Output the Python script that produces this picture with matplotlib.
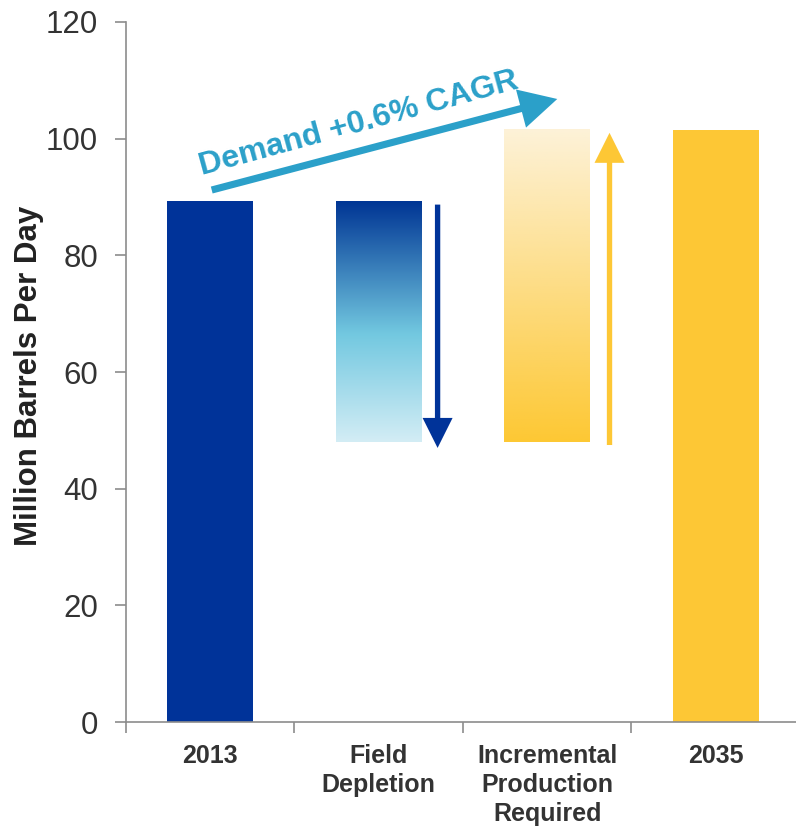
import numpy as np
import matplotlib.pyplot as plt
from matplotlib.colors import LinearSegmentedColormap

plt.rcParams["font.family"] = ["Liberation Sans", "DejaVu Sans"]

categories = ["2013", "Field\nDepletion", "Incremental\nProduction\nRequired", "2035"]
demand_2013 = 89.3
field_depletion = 41.3
demand_2035 = 101.5
demand_label = "Demand +0.6% CAGR"

BLUE = "#003399"
GOLD = "#fdc735"
TEAL = "#2ba0c9"

floor_level = demand_2013 - field_depletion
incremental = demand_2035 - floor_level
bar_w = 0.51


def gradient_bar(ax, x, bottom, height, colors):
    # vertical gradient: colors listed bottom -> top
    cmap = LinearSegmentedColormap.from_list("g", colors)
    grad = np.linspace(0, 1, 256).reshape(-1, 1)
    ax.imshow(grad, cmap=cmap, origin="lower", aspect="auto",
              extent=(x - bar_w / 2, x + bar_w / 2, bottom, bottom + height),
              zorder=2, interpolation="bicubic")


fig = plt.figure(figsize=(7.96, 8.32), dpi=100)
ax = fig.add_axes([0.158, 0.132, 0.847, 0.8416])

ax.bar(0, demand_2013, width=bar_w, color=BLUE, zorder=2)
ax.bar(3, demand_2035, width=bar_w, color=GOLD, zorder=2)
gradient_bar(ax, 1, floor_level, field_depletion,
             [(0.0, "#d3edf5"), (0.45, "#72c8e0"), (1.0, "#003594")])
gradient_bar(ax, 2, floor_level, incremental,
             [(0.0, "#fdc834"), (1.0, "#fdf2d8")])

# direction arrows beside the middle bars
ax.annotate("", xy=(1.35, floor_level - 1.0), xytext=(1.35, demand_2013 - 0.6),
            arrowprops=dict(arrowstyle="simple,tail_width=0.16,head_width=0.9,head_length=0.9",
                            mutation_scale=24, color=BLUE, shrinkA=0, shrinkB=0, lw=0),
            zorder=3)
ax.annotate("", xy=(2.37, demand_2035 - 0.5), xytext=(2.37, floor_level - 0.5),
            arrowprops=dict(arrowstyle="simple,tail_width=0.16,head_width=0.9,head_length=0.9",
                            mutation_scale=24, color=GOLD, shrinkA=0, shrinkB=0, lw=0),
            zorder=3)

# demand growth arrow
ax.annotate("", xy=(2.06, demand_2035 + 5.3), xytext=(0.01, demand_2013 + 1.9),
            arrowprops=dict(arrowstyle="simple,tail_width=0.19,head_width=1.05,head_length=1.0",
                            mutation_scale=27, color=TEAL, shrinkA=0, shrinkB=0, lw=0),
            zorder=3, annotation_clip=False)
ax.text(0.88, 102.6, demand_label, rotation=15.3, rotation_mode="anchor",
        ha="center", va="center", fontsize=23, fontweight="bold", color=TEAL)

ax.set_xlim(-0.5, 3.5)
ax.set_ylim(0, 120)
ax.set_yticks(range(0, 121, 20))
ax.set_xticks([-0.5, 0.5, 1.5, 2.5, 3.5])
ax.set_xticklabels([])
ax.set_xticks(range(len(categories)), minor=True)
ax.set_xticklabels(categories, minor=True, fontsize=18, fontweight="bold",
                   color="#333333", linespacing=1.25)
ax.tick_params(axis="x", which="major", length=8, width=1.2, color="#8c8c8c")
ax.tick_params(axis="x", which="minor", length=0, pad=16)
ax.tick_params(axis="y", length=8, width=1.2, color="#8c8c8c",
               labelsize=22.5, labelcolor="#333333", pad=12)

for side in ("top", "right"):
    ax.spines[side].set_visible(False)
for side in ("left", "bottom"):
    ax.spines[side].set_color("#8c8c8c")
    ax.spines[side].set_linewidth(1.2)

ax.set_ylabel("Million Barrels Per Day", fontsize=22.5, fontweight="bold",
              color="#222222")
ax.yaxis.set_label_coords(-0.158 + 25 / 796 / 0.847 * 1.0, 0.495)

fig.savefig("out.png", dpi=100)
